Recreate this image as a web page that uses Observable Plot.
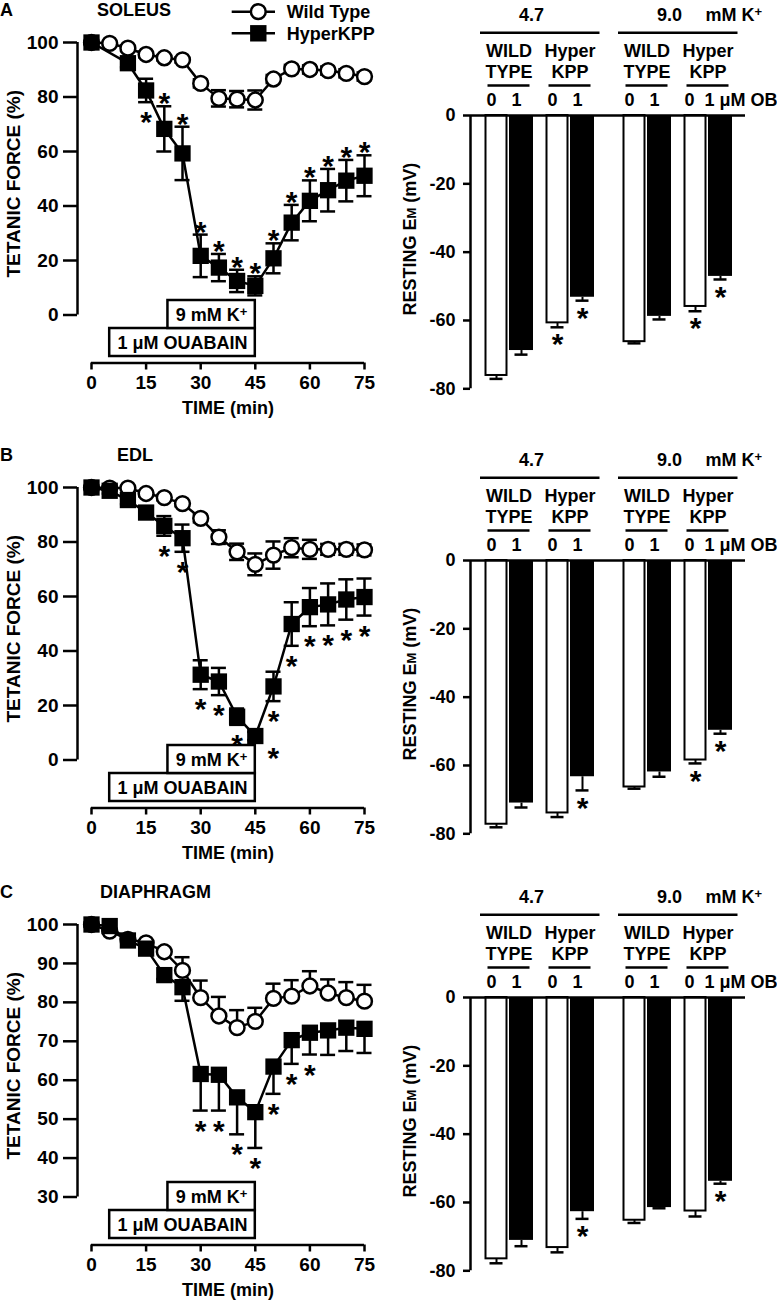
<!DOCTYPE html>
<html>
<head>
<meta charset="utf-8">
<script src="https://cdn.jsdelivr.net/npm/d3@7"></script>
<script src="https://cdn.jsdelivr.net/npm/@observablehq/plot@0.6"></script>
<style>
  body { margin: 0; background: #fff; }
  #fig { position: relative; width: 777px; height: 1301px; background: #fff; overflow: hidden;
         font-family: "Liberation Sans", Arial, Helvetica, sans-serif; font-weight: bold; color: #000; }
  .lbl { position: absolute; font-size: 18px; line-height: 18px; white-space: nowrap; font-weight: bold; }
</style>
</head>
<body>
<div id="fig"></div>
<script>
// ---------------- DATA ----------------
const time   = [0, 5, 10, 15, 20, 25, 30, 35, 40, 45, 50, 55, 60, 65, 70, 75];
const xTicks = [0, 15, 30, 45, 60, 75];
const seriesNames = ["Wild Type", "HyperKPP"];
const panelLetters = ["A", "B", "C"];
const muscles = ["SOLEUS", "EDL", "DIAPHRAGM"];

// Soleus tetanic force (%)
const soleusWT     = [100, 99.7, 97.9, 95.6, 94.4, 93.6, 85.0, 79.5, 79.2, 78.9, 86.6, 90.3, 90.1, 89.7, 88.7, 87.5];
const soleusWTerr  = [0.5, 0.5, 1, 1, 1, 1, 1.5, 3, 3, 3.5, 1.5, 1.5, 1.5, 1.5, 1.5, 1.5];
const soleusHK     = [100, null, 92.4, 82.4, 68.3, 59.3, 21.7, 17.4, 12.5, 10.7, 20.8, 33.9, 41.9, 45.8, 49.3, 51.1];
const soleusHKerr  = [0.5, null, 1.5, 4.3, 8.3, 9.8, 7.8, 5, 4.1, 3.5, 5.5, 6.5, 7.5, 7.8, 7.6, 7.5];
const soleusHKsig  = ["", "", "", "b", "a", "a", "a", "a", "a", "a", "a", "a", "a", "a", "a", "a"];

// EDL tetanic force (%)
const edlWT        = [100, 99.8, 99.8, 97.8, 96.3, 94.1, 88.7, 81.8, 76.4, 71.8, 75.2, 77.9, 77.3, 77.3, 77.3, 77.1];
const edlWTerr     = [0.5, 0.5, 0.5, 1, 1, 1, 1.5, 2.5, 3, 4, 5, 3.5, 3.5, 2, 2, 2];
const edlHK        = [100, 98.8, 95.4, 90.8, 85.9, 81.4, 31.3, 28.8, 15.9, 8.8, 27.0, 49.9, 56.1, 57.1, 58.9, 59.8];
const edlHKerr     = [0.5, 1, 1.5, 1.5, 3.6, 5, 5.3, 5, 3, 1.5, 5.4, 8, 7, 7.7, 7.4, 6.8];
const edlHKsig     = ["", "", "", "", "b", "b", "b", "b", "b", "br", "b", "b", "b", "b", "b", "b"];

// Diaphragm tetanic force (%)
const diaWT        = [100, 98.3, 96.2, 95.3, 93.0, 88.2, 81.2, 76.5, 73.5, 75.1, 81.0, 81.6, 84.2, 82.4, 81.2, 80.3];
const diaWTerr     = [0.5, 0.5, 0.5, 0.5, 1, 3.4, 4.4, 4.9, 4.5, 3.5, 3.8, 4.1, 3.8, 3.5, 4, 4.2];
const diaHK        = [100, 99.6, 95.9, 93.8, 87.0, 83.9, 61.6, 61.4, 55.6, 51.8, 63.5, 70.3, 72.2, 72.8, 73.5, 73.2];
const diaHKerr     = [0.5, 0.5, 0.5, 0.5, 1, 3.5, 9.4, 9.2, 9.5, 9.2, 7, 6.1, 5.6, 6.3, 6, 6.2];
const diaHKsig     = ["", "", "", "", "", "", "b", "b", "b", "b", "b", "b", "b", "", "", ""];

const forceTicks   = [0, 20, 40, 60, 80, 100];
const diaForceTicks = [30, 40, 50, 60, 70, 80, 90, 100];

// Treatments (min)
const treatments = [
  {label: "1 μM OUABAIN", start: 5, end: 45},
  {label: "9 mM K+", start: 21, end: 45}
];

// Resting membrane potential (mV); order: K level > genotype > ouabain
const kLevels   = ["4.7", "9.0"];
const kUnit     = "mM K+";
const genotypes = ["WILD\nTYPE", "Hyper\nKPP"];
const obLevels  = ["0", "1"];
const obUnit    = "μM OB";
const emTicks   = [0, -20, -40, -60, -80];

const soleusEm    = [-76.1, -68.8, -60.7, -53.2, -66.2, -58.8, -55.9, -47.1];
const soleusEmErr = [1.0, 1.2, 1.3, 1.0, 0.5, 0.9, 1.4, 0.9];
const soleusEmSig = [0, 0, 1, 1, 0, 0, 1, 1];
const edlEm       = [-77.2, -71.0, -73.9, -63.3, -66.3, -61.9, -58.4, -49.7];
const edlEmErr    = [0.9, 1.3, 1.2, 4.0, 0.5, 1.4, 1.0, 1.0];
const edlEmSig    = [0, 0, 0, 1, 0, 0, 1, 1];
const diaEm       = [-76.5, -71.1, -73.2, -62.7, -65.2, -61.5, -62.5, -53.8];
const diaEmErr    = [1.3, 1.7, 1.4, 2.1, 0.8, 0.2, 1.6, 0.7];
const diaEmSig    = [0, 0, 0, 1, 0, 0, 0, 1];

// ---------------- LAYOUT / STYLE ----------------
const FONT = "'Liberation Sans', Arial, Helvetica, sans-serif";
const rowTops = [0, 445, 882];
const SW = 2.5;
const STAR_SIZE = 30, STAR_SHIFT = 0.25 * STAR_SIZE;
const fig = document.getElementById("fig");
const NS = "http://www.w3.org/2000/svg";

function place(el, left, top) {
  el.style.position = "absolute";
  el.style.left = left + "px";
  el.style.top = top + "px";
  el.style.maxWidth = "none";
  fig.appendChild(el);
}

function richText(svg) {
  svg.querySelectorAll("text, tspan").forEach(el => {
    if (el.children.length) return;
    const s = el.textContent;
    if (s.endsWith("K+")) {
      el.textContent = s.slice(0, -1);
      const t = document.createElementNS(NS, "tspan");
      t.setAttribute("dy", "-0.42em");
      t.setAttribute("font-size", "13px");
      t.textContent = "+";
      el.appendChild(t);
    } else if (s.includes("EM (")) {
      const [a, b] = s.split("EM");
      el.textContent = a + "E";
      const t = document.createElementNS(NS, "tspan");
      t.setAttribute("font-size", "13px");
      t.textContent = "M";
      el.appendChild(t);
      el.appendChild(document.createTextNode(b));
    }
  });
}

// ---------------- LEFT PANELS (tetanic force) ----------------
function leftPanel(p) {
  const rows = time.map((t, i) => ({t, wt: p.wt[i], wtErr: p.wtErr[i], hk: p.hk[i], hkErr: p.hkErr[i], sig: p.sig[i]}));
  const wt = rows.filter(d => d.wt != null);
  const hk = rows.filter(d => d.hk != null);
  const wtHi = d => d.wt + d.wtErr;
  const wtLo = d => p.twoSided ? d.wt - d.wtErr : d.wt;
  const hkLo = d => d.hk - d.hkErr;
  const hkHi = d => p.twoSided ? d.hk + d.hkErr : d.hk;
  const yMin = p.yTicks[0], yMax = p.yTicks[p.yTicks.length - 1];
  const width = 390, height = 425, mTop = 42, mBottom = 62.5, inB = 48;
  const frameH = height - mTop - mBottom;
  const BOX_BOTTOM = 6.5, BOX_H = 28;
  const cap = {insetLeft: -7.5, insetRight: -7.5, strokeWidth: SW};
  const starsA = hk.filter(d => d.sig === "a");
  const starsB = hk.filter(d => d.sig === "b");
  const starsBR = hk.filter(d => d.sig === "br");
  const starOpts = {text: () => "*", fontSize: STAR_SIZE, fontWeight: "bold"};

  const marks = [
    Plot.axisX({ticks: xTicks, tickSize: 7, tickPadding: 5, strokeWidth: SW, fontSize: 19, label: null, tickFormat: d => String(d)}),
    Plot.axisY({ticks: p.yTicks, tickSize: 14, tickPadding: 5, dx: -14, strokeWidth: SW, fontSize: 19, label: null, tickFormat: d => String(d)}),
    Plot.ruleX([xTicks[0]], {y1: yMin, y2: yMax, dx: -14, strokeWidth: SW}),
    Plot.ruleY([yMin], {x1: xTicks[0], x2: xTicks[xTicks.length - 1], dy: inB, strokeWidth: SW}),
    Plot.text([p.yLabel], {text: d => d, frameAnchor: "left", textAnchor: "middle", lineAnchor: "middle", rotate: -90, dx: -78, dy: -19, fontSize: 19}),
    Plot.text([p.xLabel], {text: d => d, frameAnchor: "bottom", textAnchor: "middle", lineAnchor: "middle", dy: 45, fontSize: 18}),
  ];
  treatments.forEach((tr, j) => {
    marks.push(Plot.rect([tr], {x1: "start", x2: "end", fill: "white", stroke: "black", strokeWidth: SW,
      insetBottom: BOX_BOTTOM + j * BOX_H, insetTop: frameH - (BOX_BOTTOM + (j + 1) * BOX_H)}));
    marks.push(Plot.text([tr], {x: d => (d.start + d.end) / 2, text: "label", frameAnchor: "bottom", lineAnchor: "middle",
      dy: -(BOX_BOTTOM + (j + 0.5) * BOX_H) + 1, fontSize: 18}));
  });
  marks.push(
    Plot.line(wt, {x: "t", y: "wt", strokeWidth: SW}),
    Plot.line(hk, {x: "t", y: "hk", strokeWidth: SW}),
    Plot.ruleX(wt, {x: "t", y1: wtLo, y2: wtHi, strokeWidth: SW}),
    Plot.ruleY(wt, {y: wtHi, x1: "t", x2: "t", ...cap}),
    Plot.ruleX(hk, {x: "t", y1: hkLo, y2: hkHi, strokeWidth: SW}),
    Plot.ruleY(hk, {y: hkLo, x1: "t", x2: "t", ...cap}),
  );
  if (p.twoSided) {
    marks.push(Plot.ruleY(wt, {y: wtLo, x1: "t", x2: "t", ...cap}));
    marks.push(Plot.ruleY(hk, {y: hkHi, x1: "t", x2: "t", ...cap}));
  }
  marks.push(
    Plot.dot(wt, {x: "t", y: "wt", r: 7.4, fill: "white", stroke: "black", strokeWidth: SW}),
    Plot.dot(hk, {x: "t", y: "hk", r: 9.2, symbol: "square", fill: "black"}),
    Plot.text(starsA, {x: "t", y: hkHi, dy: -10 + STAR_SHIFT, ...starOpts}),
    Plot.text(starsB, {x: "t", y: hkLo, dy: 13 + STAR_SHIFT, ...starOpts}),
    Plot.text(starsBR, {x: "t", y: hkLo, dx: 18, dy: 11 + STAR_SHIFT, ...starOpts}),
  );

  const svg = Plot.plot({
    width, height, marginTop: mTop, marginBottom: mBottom, marginLeft: 91, marginRight: 26,
    insetBottom: inB,
    x: {domain: [xTicks[0], xTicks[xTicks.length - 1]]},
    y: {domain: [yMin, yMax]},
    style: {fontFamily: FONT, fontSize: "18px", fontWeight: "bold", color: "black", background: "transparent", overflow: "visible"},
    marks
  });
  richText(svg);
  return svg;
}

// ---------------- RIGHT PANELS (resting Em) ----------------
const K_STEP = 5.52, G_STEP = 2.44;
const slot = (ki, gi, oi) => ki * K_STEP + gi * G_STEP + oi;

function rightPanel(p) {
  const bars = [];
  kLevels.forEach((k, ki) => genotypes.forEach((g, gi) => obLevels.forEach((o, oi) => {
    const i = ki * 4 + gi * 2 + oi;
    bars.push({k, g, o, ki, gi, oi, c: slot(ki, gi, oi), v: p.em[i], err: p.err[i], sig: p.sig[i]});
  })));
  const groups = [];
  kLevels.forEach((k, ki) => genotypes.forEach((g, gi) => groups.push({k, g, ki, gi, c: slot(ki, gi, 0.5)})));
  const kGroups = kLevels.map((k, ki) => ({k, ki, c0: slot(ki, 0, 0), c1: slot(ki, 1, 1), mid: (slot(ki, 0, 0) + slot(ki, 1, 1)) / 2}));
  const lastG = d => d.ki === kLevels.length - 1 && d.gi === genotypes.length - 1;
  const xDomain = [-1.04, 9.96];
  const lo = d => d.v - d.err;

  const svg = Plot.plot({
    width: 387, height: 420, marginTop: 115, marginBottom: 31.7, marginLeft: 80, marginRight: 32,
    x: {domain: xDomain, axis: null},
    y: {domain: [emTicks[emTicks.length - 1], emTicks[0]]},
    style: {fontFamily: FONT, fontSize: "18px", fontWeight: "bold", color: "black", background: "transparent", overflow: "visible"},
    marks: [
      Plot.axisY({ticks: emTicks, tickSize: 7, tickPadding: 8, strokeWidth: SW, fontSize: 18, label: null, tickFormat: d => String(d)}),
      Plot.ruleX([xDomain[0]], {y1: emTicks[emTicks.length - 1], y2: emTicks[0], strokeWidth: SW}),
      Plot.text([p.yLabel], {text: d => d, frameAnchor: "left", textAnchor: "middle", lineAnchor: "middle", rotate: -90, dx: -60, dy: -13, fontSize: 18}),
      Plot.ruleX(bars, {x: "c", y1: "v", y2: lo, strokeWidth: 2}),
      Plot.ruleY(bars, {y: lo, x1: "c", x2: "c", insetLeft: -6.5, insetRight: -6.5, strokeWidth: SW}),
      Plot.rect(bars.filter(d => d.oi === 0), {x1: d => d.c - 0.42, x2: d => d.c + 0.42, y1: 0, y2: "v", fill: "white", stroke: "black", strokeWidth: 2}),
      Plot.rect(bars.filter(d => d.oi === 1), {x1: d => d.c - 0.48, x2: d => d.c + 0.48, y1: 0, y2: "v", fill: "black"}),
      Plot.ruleY([0], {strokeWidth: SW}),
      Plot.text(bars.filter(d => d.sig), {x: "c", y: lo, text: () => "*", dy: 10 + STAR_SHIFT, fontSize: STAR_SIZE}),
      // header
      Plot.text(bars.filter(d => !lastG(d)), {x: "c", y: 0, text: "o", dy: -15, dx: -5}),
      Plot.text(bars.filter(d => lastG(d) && d.oi === 0), {x: d => d.c - 0.44, y: 0, text: d => obLevels.join("\u00a0 ") + " " + obUnit, textAnchor: "start", dy: -15}),
      Plot.ruleY(groups, {y: 0, x1: d => d.c - 0.84, x2: d => d.c + 0.84, dy: -30, strokeWidth: SW}),
      Plot.text(groups, {x: "c", y: 0, text: "g", dy: -54.5, lineHeight: 1.17}),
      Plot.ruleY(kGroups, {y: 0, x1: d => d.c0 - 0.64, x2: d => d.c1 + 0.7, dy: -82.7, strokeWidth: SW}),
      Plot.text(kGroups, {x: "mid", y: 0, text: "k", dy: -100, dx: -8}),
      Plot.text(kGroups.slice(-1), {x: "mid", y: 0, text: () => kUnit, textAnchor: "start", dx: 28, dy: -100}),
    ]
  });
  richText(svg);
  return svg;
}

// ---------------- BUILD ----------------
const leftCfgs = [
  {wt: soleusWT, wtErr: soleusWTerr, hk: soleusHK, hkErr: soleusHKerr, sig: soleusHKsig, twoSided: true, yTicks: forceTicks},
  {wt: edlWT, wtErr: edlWTerr, hk: edlHK, hkErr: edlHKerr, sig: edlHKsig, twoSided: true, yTicks: forceTicks},
  {wt: diaWT, wtErr: diaWTerr, hk: diaHK, hkErr: diaHKerr, sig: diaHKsig, twoSided: false, yTicks: diaForceTicks},
];
const rightCfgs = [
  {em: soleusEm, err: soleusEmErr, sig: soleusEmSig},
  {em: edlEm, err: edlEmErr, sig: edlEmSig},
  {em: diaEm, err: diaEmErr, sig: diaEmSig},
];
const titleLeft = [97, 117, 100];

rowTops.forEach((top, r) => {
  place(leftPanel({...leftCfgs[r], yLabel: "TETANIC FORCE (%)", xLabel: "TIME (min)"}), 0, top);
  place(rightPanel({...rightCfgs[r], yLabel: "RESTING EM (mV)"}), 390, top);
  const L = document.createElement("div"); L.className = "lbl"; L.textContent = panelLetters[r]; place(L, 0, top + 0.5);
  const T = document.createElement("div"); T.className = "lbl"; T.textContent = muscles[r]; place(T, titleLeft[r], top + 1);
});

// legend
const leg = d3.create("svg").attr("width", 190).attr("height", 46).style("overflow", "visible");
const items = [{y: 11.7, sym: "circle"}, {y: 33.3, sym: "square"}];
items.forEach((it, i) => {
  leg.append("line").attr("x1", 31.7).attr("x2", 75).attr("y1", it.y).attr("y2", it.y).attr("stroke", "black").attr("stroke-width", SW);
  if (it.sym === "circle") leg.append("circle").attr("cx", 58.3).attr("cy", it.y).attr("r", 7.4).attr("fill", "white").attr("stroke", "black").attr("stroke-width", SW);
  else leg.append("rect").attr("x", 58.3 - 8.2).attr("y", it.y - 8.2).attr("width", 16.4).attr("height", 16.4).attr("fill", "black");
  leg.append("text").attr("x", 86.7).attr("y", it.y).attr("dy", "0.35em").attr("font-family", FONT).attr("font-weight", "bold").attr("font-size", 18).text(seriesNames[i]);
});
place(leg.node(), 200, 0);
</script>
</body>
</html>
